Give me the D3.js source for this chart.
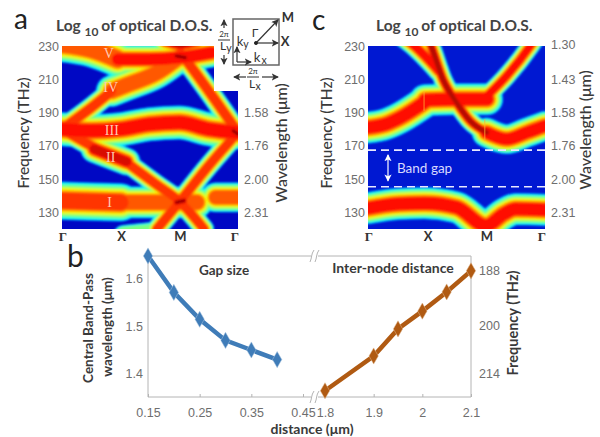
<!DOCTYPE html>
<html>
<head>
<meta charset="utf-8">
<script src="https://cdn.jsdelivr.net/npm/d3@7"></script>
<style>
html, body { margin: 0; padding: 0; background: #fff; }
svg { display: block; font-family: "Lato", "Open Sans", sans-serif; }
</style>
</head>
<body>
<div id="chart"></div>
<script>
// band structure values: [k position, frequency in THz]
var kLabels = ["Γ", "X", "M", "Γ"];
var freqTicks = [130, 150, 170, 190, 210, 230];
var waveTicksA = [1.58, 1.76, 2.00, 2.31];
var waveTicksC = [1.30, 1.43, 1.58, 1.76, 2.00, 2.31];
var romanLabels = [["V", 0.8, 225], ["IV", 0.83, 204], ["III", 0.85, 178.5], ["II", 0.83, 162], ["I", 0.81, 135]];

// each band: points, line width in THz, peak level of the colour map
var bandsA = [
	{ points: [[0, 231], [0.5, 228], [0.95, 222]], width: 17, peak: 0.84 },
	{ points: [[0.95, 222], [1.5, 222], [2, 223], [2.55, 226]], width: 14, peak: 0.9 },
	{ points: [[0, 180], [0.5, 193], [0.85, 203]], width: 10, peak: 0.86 },
	{ points: [[0.85, 203], [1.1, 206.5], [1.62, 214], [2.02, 224]], width: 15, peak: 0.84 },
	{ points: [[2.02, 226], [2.5, 203], [3, 178]], width: 10, peak: 0.88 },
	{ points: [[0, 180], [0.5, 179], [1, 180], [1.5, 183], [2, 184], [2.5, 180], [3, 178]], width: 16, peak: 0.9 },
	{ points: [[0, 180], [0.5, 170], [0.95, 162]], width: 10, peak: 0.88 },
	{ points: [[0.55, 168], [1.1, 160.5]], width: 13, peak: 0.92 },
	{ points: [[1.1, 160], [1.6, 147], [2.02, 136], [2.42, 120]], width: 9.5, peak: 0.88 },
	{ points: [[1.62, 120], [2.02, 137], [2.5, 158], [3, 178]], width: 9.5, peak: 0.88 },
	{ points: [[0, 137], [0.5, 136.5], [1, 136]], width: 18, peak: 0.88 },
	{ points: [[1, 136], [1.5, 136], [2.3, 136]], width: 15, peak: 0.82 },
	{ points: [[2.62, 139], [3, 139]], width: 14, peak: 0.82 },
	{ points: [[1.05, 116], [1.6, 118]], width: 10, peak: 0.5 },
	{ points: [[1.75, 233], [2.02, 231], [2.3, 233]], width: 11, peak: 1 },
	{ points: [[1.95, 224], [2.1, 223]], width: 7, peak: 1 },
	{ points: [[1.95, 136], [2.08, 137]], width: 7, peak: 1 },
	{ points: [[2.92, 179], [3, 177]], width: 7, peak: 1 }
];
var bandsC = [
	{ points: [[0, 181], [0.3, 183], [0.55, 187], [0.95, 196]], width: 15, peak: 0.9 },
	{ points: [[0.97, 197.5], [1.5, 198], [2.02, 198]], width: 15, peak: 0.9 },
	{ points: [[2.02, 200], [2.35, 212], [2.75, 230], [2.9, 238]], width: 9, peak: 0.9 },
	{ points: [[0.5, 238], [0.79, 230], [1.02, 222], [1.2, 215]], width: 10, peak: 0.9 },
	{ points: [[1.0, 236], [1.07, 230], [1.27, 210], [1.5, 196], [1.73, 185], [2.01, 178]], width: 9, peak: 0.97 },
	{ points: [[2.01, 178], [2.35, 174], [2.69, 178], [3, 182]], width: 14, peak: 0.9 },
	{ points: [[0, 132.5], [0.5, 135], [0.96, 135.5], [1.5, 133], [2, 122], [2.3, 129], [2.5, 132], [3, 131.5]], width: 15, peak: 0.9 }
];
var seamsC = [[0.95, 191, 203], [1.98, 173, 186]];
var gapEdges = [167.4, 145.4];

// bottom chart values
var gapSize = [0.15, 0.2, 0.25, 0.3, 0.35, 0.4];
var gapWavelength = [1.646, 1.57, 1.514, 1.47, 1.45, 1.43];
var nodeDistance = [1.8, 1.9, 1.95, 2, 2.05, 2.1];
var nodeWavelength = [1.365, 1.4375, 1.494, 1.531, 1.571, 1.615];
var gapTicks = [0.15, 0.25, 0.35, 0.45];
var nodeTicks = [1.8, 1.9, 2, 2.1];
var wavelengthTicks = [1.4, 1.5, 1.6];
var frequencyTickWave = [1.615, 1.502, 1.4];
var frequencyTickLabels = ["188", "200", "214"];

var width = 600, height = 437;
var tickGrey = "#6e6e6e", labelDark = "#3a3a3a", axisGrey = "#b4b4b4";

var svg = d3.select("#chart").append("svg")
	.attr("width", width)
	.attr("height", height);
var defs = svg.append("defs");
defs.append("filter").attr("id", "soft")
	.attr("x", "-5%").attr("y", "-5%").attr("width", "110%").attr("height", "110%")
	.append("feGaussianBlur").attr("stdDeviation", 1.3);
var marker = defs.append("marker").attr("id", "head")
	.attr("viewBox", "0 0 8 8").attr("refX", 7).attr("refY", 4)
	.attr("markerWidth", 6).attr("markerHeight", 6)
	.attr("orient", "auto-start-reverse");
marker.append("path").attr("d", "M0,0L8,4L0,8L2,4Z").attr("fill", "context-stroke");

// colour map and how wide each level is, relative to the band
var jet = d3.scaleLinear()
	.domain([0, 0.11, 0.35, 0.5, 0.65, 0.88, 1])
	.range(["#000080", "#0000ff", "#00ffff", "#80ff80", "#ffff00", "#ff1000", "#7a0000"]);
var levelWidth = d3.scaleLinear()
	.domain([0.18, 0.35, 0.88, 1])
	.range([1.28, 1.2, 0.48, 0.1]);
var levels = d3.range(0.18, 1.001, 0.035);

function drawPanel(opts) {
	var x = d3.scaleLinear().domain([0, 3]).range(opts.xRange);
	var y = d3.scaleLinear().domain([120, 230]).range([229, 46]);
	var thzToPx = y(120) - y(121);
	var line = d3.line()
		.x(function(d) { return x(d[0]); })
		.y(function(d) { return y(d[1]); })
		.curve(d3.curveMonotoneX);

	var clip = defs.append("clipPath").attr("id", opts.id + "-clip");
	opts.clipRects.forEach(function(r) {
		clip.append("rect")
			.attr("x", x(0))
			.attr("y", y(r[1]))
			.attr("width", r[0] - x(0))
			.attr("height", y(120) - y(r[1]));
	});

	var g = svg.append("g").attr("clip-path", "url(#" + opts.id + "-clip)");
	g.append("rect")
		.attr("x", x(0))
		.attr("y", y(230))
		.attr("width", x(3) - x(0))
		.attr("height", y(120) - y(230))
		.attr("fill", opts.background);

	var glow = g.append("g").attr("filter", "url(#soft)");
	levels.forEach(function(v) {
		glow.append("g").selectAll("path")
			.data(opts.bands.filter(function(b) { return b.peak >= v; }))
			.enter()
			.append("path")
			.attr("d", function(b) { return line(b.points); })
			.attr("fill", "none")
			.attr("stroke", jet(v))
			.attr("stroke-linejoin", "round")
			.attr("stroke-linecap", "round")
			.attr("stroke-width", function(b) { return b.width * thzToPx * levelWidth(v); });
	});

	// axes
	var yAxis = d3.axisLeft(y).tickValues(freqTicks).tickSize(0).tickPadding(3);
	var left = svg.append("g").attr("transform", "translate(" + x(0) + ",0)").call(yAxis);
	var right = svg.append("g").attr("transform", "translate(" + x(3) + ",0)");
	right.call(d3.axisRight(y)
		.tickValues(opts.waveTicks.map(function(w) { return opts.freqOf(w); }))
		.tickFormat(function(f, i) { return opts.waveTicks[i].toFixed(2); })
		.tickSize(0).tickPadding(6));
	[left, right].forEach(function(a) {
		a.select(".domain").remove();
		a.selectAll("text").style("font-size", "12.5px").style("fill", tickGrey);
	});

	svg.selectAll(".k-" + opts.id)
		.data(kLabels)
		.enter()
		.append("text")
		.attr("class", "k-" + opts.id)
		.attr("x", function(d, i) { return x(i) + (i == 0 ? 1 : i == 3 ? -3 : 1); })
		.attr("y", 241)
		.attr("text-anchor", "middle")
		.style("font-family", function(d) { return d == "Γ" ? "Liberation Serif" : null; })
		.style("font-size", "13px")
		.style("font-weight", "bold")
		.style("fill", "#333")
		.text(function(d) { return d; });

	// titles
	var title = svg.append("text")
		.attr("x", opts.titleX)
		.attr("y", 31)
		.style("font-size", "15.5px")
		.style("font-weight", "bold")
		.style("fill", "#444");
	title.append("tspan").text("Log ");
	title.append("tspan").attr("dy", 5).style("font-size", "12px").text("10 ");
	title.append("tspan").attr("dy", -5).text("of optical D.O.S.");

	rotated(opts.freqLabelX, 133, "Frequency (THz)", 15.5, "500", labelDark);
	rotated(opts.waveLabelX, opts.waveLabelY, "Wavelength (μm)", 16, "500", labelDark);

	return { x: x, y: y, group: g };
}

function rotated(px, py, txt, size, weight, colour) {
	svg.append("text")
		.attr("transform", "translate(" + px + "," + py + ") rotate(-90)")
		.attr("text-anchor", "middle")
		.attr("dominant-baseline", "middle")
		.style("font-size", size + "px")
		.style("font-weight", weight)
		.style("fill", colour)
		.text(txt);
}

function freqFromWave(w) { return 300 / w; }

var panelA = drawPanel({
	id: "a", bands: bandsA, background: "#0008c4",
	xRange: [62, 238], clipRects: [[214, 230], [238, 203]],
	waveTicks: waveTicksA, freqOf: freqFromWave,
	titleX: 56, freqLabelX: 25, waveLabelX: 283, waveLabelY: 143
});
var panelC = drawPanel({
	id: "c", bands: bandsC, background: "#0018d2",
	xRange: [368, 545], clipRects: [[545, 230]],
	waveTicks: waveTicksC, freqOf: freqFromWave,
	titleX: 376, freqLabelX: 328, waveLabelX: 587, waveLabelY: 130
});

// roman numerals on panel a
svg.selectAll(".roman")
	.data(romanLabels)
	.enter()
	.append("text")
	.attr("class", "roman")
	.attr("x", function(d) { return panelA.x(d[1]); })
	.attr("y", function(d) { return panelA.y(d[2]); })
	.attr("text-anchor", "middle")
	.attr("dominant-baseline", "middle")
	.style("font-family", "Liberation Serif")
	.style("font-size", "14px")
	.style("fill", "#ffc8b0")
	.text(function(d) { return d[0]; });

// band gap marks on panel c
panelC.group.selectAll(".seam")
	.data(seamsC)
	.enter()
	.append("line")
	.attr("x1", function(d) { return panelC.x(d[0]); })
	.attr("x2", function(d) { return panelC.x(d[0]); })
	.attr("y1", function(d) { return panelC.y(d[1]); })
	.attr("y2", function(d) { return panelC.y(d[2]); })
	.attr("stroke", "#ffb030")
	.attr("stroke-opacity", 0.8);
panelC.group.selectAll(".gap-edge")
	.data(gapEdges)
	.enter()
	.append("line")
	.attr("x1", panelC.x(0))
	.attr("x2", panelC.x(3))
	.attr("y1", function(d) { return panelC.y(d); })
	.attr("y2", function(d) { return panelC.y(d); })
	.attr("stroke", "#e8e8ff")
	.attr("stroke-width", 1.6)
	.attr("stroke-dasharray", "8,5");
svg.append("line")
	.attr("x1", 388).attr("x2", 388)
	.attr("y1", panelC.y(164.5)).attr("y2", panelC.y(149))
	.attr("stroke", "#fff")
	.attr("stroke-width", 1.2)
	.attr("marker-start", "url(#head)")
	.attr("marker-end", "url(#head)");
svg.append("text")
	.attr("x", 397).attr("y", 173)
	.style("font-size", "13.5px")
	.style("fill", "#d8d8ff")
	.text("Band gap");

// panel letters
[["a", 14, 29, 28], ["b", 67, 267, 30], ["c", 312, 30, 28]].forEach(function(d) {
	svg.append("text")
		.attr("x", d[1]).attr("y", d[2])
		.style("font-size", d[3] + "px")
		.style("fill", "#222")
		.text(d[0]);
});

// brillouin zone sketch next to panel a
var inset = svg.append("g").attr("fill", "none").attr("stroke", "#333").attr("stroke-width", 1);
inset.append("rect").attr("x", 233).attr("y", 19).attr("width", 46).attr("height", 46)
	.attr("stroke", "#666").attr("stroke-width", 1.5);
[[256, 43, 278, 20], [256, 43, 278, 43], [237, 62, 237, 47], [237, 62, 251, 62],
	[224, 28, 224, 20], [224, 55, 224, 64], [246, 77, 234, 77], [262, 77, 278, 77]].forEach(function(s) {
	inset.append("line")
		.attr("x1", s[0]).attr("y1", s[1]).attr("x2", s[2]).attr("y2", s[3])
		.attr("stroke-width", 1.2)
		.attr("marker-end", "url(#head)");
});
inset.append("line").attr("x1", 218).attr("x2", 230).attr("y1", 40).attr("y2", 40);
inset.append("line").attr("x1", 247).attr("x2", 259).attr("y1", 77).attr("y2", 77);
inset.append("circle").attr("cx", 256).attr("cy", 43).attr("r", 1.6).attr("fill", "#222");
[["M", 288, 22, 13], ["X", 285, 46, 13], ["Γ", 255, 37, 12], ["k", 240, 46, 13], ["k", 257, 62, 13],
	["2π", 224, 37, 8], ["L", 223, 50, 12], ["2π", 253, 74, 8], ["L", 252, 88, 12]].forEach(function(d) {
	svg.append("text")
		.attr("x", d[1]).attr("y", d[2])
		.attr("text-anchor", "middle")
		.style("font-size", d[3] + "px")
		.style("font-weight", d[0] == "M" || d[0] == "X" ? "bold" : "normal")
		.style("fill", "#333")
		.text(d[0]);
});
[["y", 246, 48], ["x", 264, 64], ["y", 229, 52], ["x", 258, 90]].forEach(function(d) {
	svg.append("text")
		.attr("x", d[1]).attr("y", d[2])
		.attr("text-anchor", "middle")
		.style("font-size", "10.5px")
		.style("fill", "#333")
		.text(d[0]);
});

// bottom chart
var yWave = d3.scaleLinear().domain([1.352, 1.648]).range([397, 255]);
var xGap = d3.scaleLinear().domain([0.15, 0.45]).range([148, 303]);
var xNode = d3.scaleLinear().domain([1.8, 2.1]).range([325, 471]);

var frame = svg.append("g").attr("stroke", axisGrey).attr("fill", "none");
frame.append("path").attr("d", d3.line()([[311, 256], [148, 256], [148, 397], [311, 397]]));
frame.append("path").attr("d", d3.line()([[318, 256], [471, 256], [471, 397], [318, 397]]));
[256, 397].forEach(function(yy) {
	[0, 5].forEach(function(dx) {
		frame.append("path")
			.attr("d", "M" + (310 + dx) + "," + (yy + 6) + "C" + (312 + dx) + "," + (yy + 2) + " " + (311 + dx) + "," + (yy - 2) + " " + (314 + dx) + "," + (yy - 6));
	});
});

var axisLeft = svg.append("g").attr("transform", "translate(148,0)")
	.call(d3.axisLeft(yWave).tickValues(wavelengthTicks).tickFormat(d3.format(".1f")).tickSize(0).tickPadding(5));
var axisRightB = svg.append("g").attr("transform", "translate(471,0)")
	.call(d3.axisRight(yWave).tickValues(frequencyTickWave)
		.tickFormat(function(d, i) { return frequencyTickLabels[i]; })
		.tickSize(0).tickPadding(8));
var axisGap = svg.append("g").attr("transform", "translate(0,397)")
	.call(d3.axisBottom(xGap).tickValues(gapTicks).tickFormat(d3.format(".2f")).tickSize(3).tickPadding(8));
var axisNode = svg.append("g").attr("transform", "translate(0,397)")
	.call(d3.axisBottom(xNode).tickValues(nodeTicks).tickFormat(function(d) { return String(d); }).tickSize(3).tickPadding(8));
[axisLeft, axisRightB, axisGap, axisNode].forEach(function(a) {
	a.select(".domain").remove();
	a.selectAll("line").attr("stroke", axisGrey).attr("transform", "translate(0,-3)");
	a.selectAll("text").style("font-size", "12.5px").style("fill", tickGrey);
});

function drawSeries(xs, ys, xScale, colour, edge) {
	var pts = xs.map(function(d, i) { return [xScale(d), yWave(ys[i])]; });
	svg.append("path")
		.attr("d", d3.line()(pts))
		.attr("fill", "none")
		.attr("stroke", colour)
		.attr("stroke-width", 4.5);
	svg.selectAll(null)
		.data(pts)
		.enter()
		.append("path")
		.attr("d", d3.symbol().type(d3.symbolDiamond).size(75))
		.attr("transform", function(d) { return "translate(" + d[0] + "," + d[1] + ")"; })
		.attr("fill", colour)
		.attr("stroke", edge)
		.attr("stroke-opacity", 0.5);
}
drawSeries(gapSize, gapWavelength, xGap, "#3f7cb8", "#a8c4e0");
drawSeries(nodeDistance, nodeWavelength, xNode, "#b05a12", "#e0b890");

svg.append("text").attr("x", 224).attr("y", 275).attr("text-anchor", "middle")
	.style("font-size", "13.5px").style("font-weight", "bold").style("fill", labelDark).text("Gap size");
svg.append("text").attr("x", 393).attr("y", 273).attr("text-anchor", "middle")
	.style("font-size", "14px").style("font-weight", "bold").style("fill", labelDark).text("Inter-node distance");
svg.append("text").attr("x", 312).attr("y", 434).attr("text-anchor", "middle")
	.style("font-size", "14px").style("font-weight", "bold").style("fill", labelDark).text("distance (μm)");
rotated(90, 328, "Central Band-Pass", 13.5, "bold", labelDark);
rotated(109, 327, "wavelength (μm)", 13.5, "bold", labelDark);
rotated(514, 323, "Frequency (THz)", 14.5, "bold", labelDark);
</script>
</body>
</html>
